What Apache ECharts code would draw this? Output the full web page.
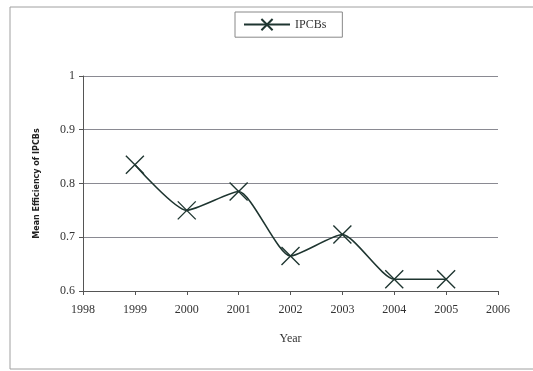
<!DOCTYPE html>
<html>
<head>
<meta charset="utf-8">
<script src="https://cdn.jsdelivr.net/npm/echarts@6/dist/echarts.min.js"></script>
<style>
  html, body { margin: 0; padding: 0; background: #fff; }
  #chart { width: 533px; height: 371px; }
</style>
</head>
<body>
<div id="chart"></div>
<script>
// data
const years = [1999, 2000, 2001, 2002, 2003, 2004, 2005]
const ipcbs = [0.835, 0.75, 0.785, 0.665, 0.705, 0.622, 0.622]
const seriesName = 'IPCBs'

const lineColor = '#1e3530'
const serif = '"Liberation Serif", "DejaVu Serif", serif'

const chart = echarts.init(document.getElementById('chart'))

chart.setOption({
    animation: false,
    backgroundColor: '#fff',
    graphic: [
        {
            type: 'rect',
            shape: { x: 10, y: 7, width: 540, height: 362 },
            style: { fill: 'none', stroke: '#a0a0a0', lineWidth: 1 },
            silent: true,
        },
    ],
    legend: {
        left: 235,
        top: 12,
        padding: [6, 16, 6, 8],
        borderColor: '#888',
        borderWidth: 1,
        itemWidth: 46,
        itemHeight: 14,
        itemGap: 4,
        textStyle: { fontFamily: serif, fontSize: 12, color: '#333' },
        data: [seriesName],
    },
    grid: {
        left: 83,
        right: 35,
        top: 76,
        bottom: 80,
    },
    xAxis: {
        type: 'value',
        min: 1998,
        max: 2006,
        interval: 1,
        name: 'Year',
        nameLocation: 'middle',
        nameGap: 42,
        nameTextStyle: { fontFamily: serif, fontSize: 12, color: '#333' },
        axisLine: { lineStyle: { color: '#555' } },
        axisTick: { show: true, length: 4, lineStyle: { color: '#555' } },
        axisLabel: {
            fontFamily: serif,
            fontSize: 12,
            color: '#333',
            margin: 13,
            formatter: v => String(v),
        },
        splitLine: { show: false },
    },
    yAxis: {
        type: 'value',
        min: 0.6,
        max: 1,
        interval: 0.1,
        name: 'Mean Efficiency of IPCBs',
        nameLocation: 'middle',
        nameGap: 42,
        nameTextStyle: { fontFamily: '"DejaVu Sans", sans-serif', fontSize: 8, fontWeight: 'bold', color: '#222' },
        axisLine: { show: true, lineStyle: { color: '#555' } },
        axisTick: { show: true, length: 4, lineStyle: { color: '#555' } },
        axisLabel: { fontFamily: serif, fontSize: 12, color: '#333', margin: 8 },
        splitLine: { show: true, lineStyle: { color: '#8a8a92', width: 1 } },
    },
    series: [
        {
            name: seriesName,
            type: 'line',
            data: years.map((y, i) => [y, ipcbs[i]]),
            smooth: 0.2,
            symbol: 'path://M0,0L10,10M10,0L0,10',
            symbolSize: 18,
            lineStyle: { color: lineColor, width: 1.6 },
            itemStyle: { color: lineColor, borderColor: lineColor, borderWidth: 1.4 },
        },
    ],
})
</script>
</body>
</html>
